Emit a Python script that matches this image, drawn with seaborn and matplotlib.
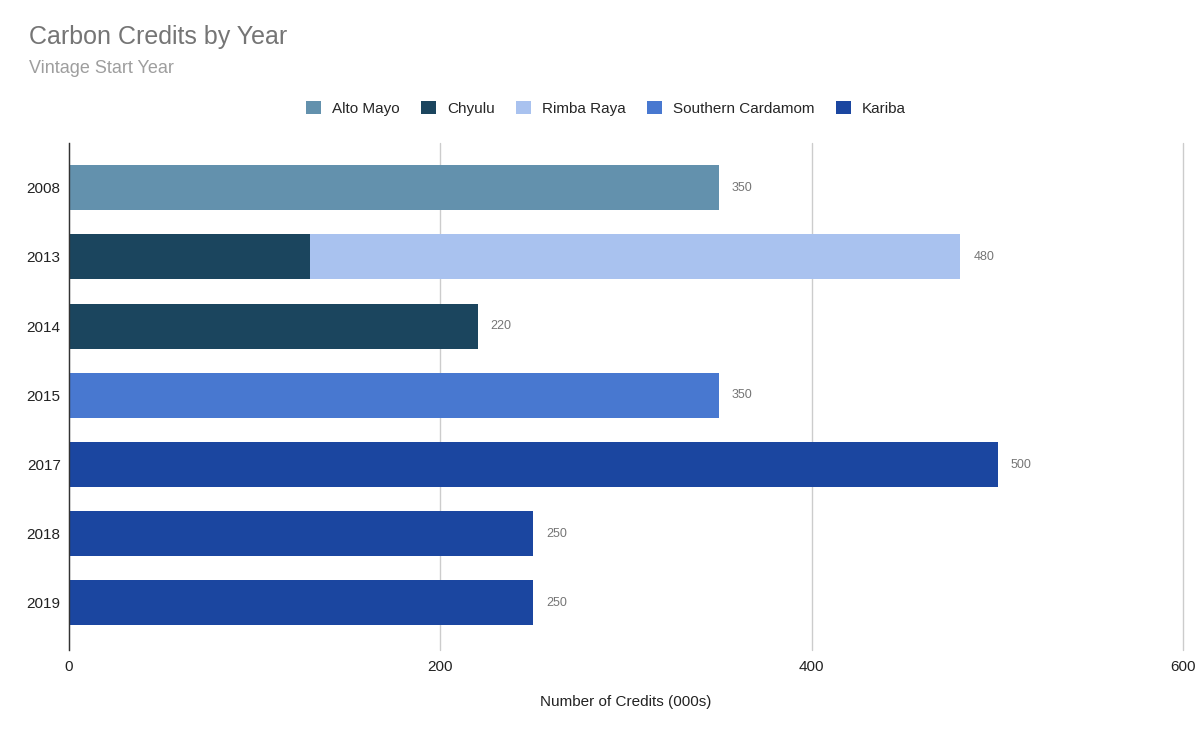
import numpy as np
import pandas as pd
import matplotlib
matplotlib.use("Agg")
import matplotlib.pyplot as plt
from matplotlib.patches import Patch
import seaborn as sns

years = ["2008", "2013", "2014", "2015", "2017", "2018", "2019"]
series_names = ["Alto Mayo", "Chyulu", "Rimba Raya", "Southern Cardamom", "Kariba"]
alto_mayo = [350, 0, 0, 0, 0, 0, 0]
chyulu = [0, 130, 220, 0, 0, 0, 0]
rimba_raya = [0, 350, 0, 0, 0, 0, 0]
southern_cardamom = [0, 0, 0, 350, 0, 0, 0]
kariba = [0, 0, 0, 0, 500, 250, 250]
colors = ["#6391ad", "#1b455e", "#a9c2ef", "#4878d0", "#1b46a0"]

sns.set_theme(style="white")
plt.rcParams['font.family'] = ['Liberation Sans', 'DejaVu Sans']

# stack in series order
df = pd.DataFrame({"year": years, "Alto Mayo": alto_mayo, "Chyulu": chyulu,
                   "Rimba Raya": rimba_raya, "Southern Cardamom": southern_cardamom,
                   "Kariba": kariba})
cum = df[series_names].cumsum(axis=1)
totals = df[series_names].sum(axis=1)

fig = plt.figure(figsize=(12, 7.32), dpi=100)
ax = fig.add_axes([0.0575, 0.112, 0.9285, 0.693])

# draw cumulative bars from the top of the stack down so lower layers sit in front
for name, col in zip(reversed(series_names), reversed(colors)):
    sns.barplot(x=cum[name], y=df["year"], order=years, color=col, width=0.65,
                linewidth=0, saturation=1, orient="h", ax=ax)

for i, t in enumerate(totals):
    ax.text(t + 7, i, f"{t:g}", va="center", ha="left", fontsize=9, color="#757575")

ax.set_xlim(0, 600)
ax.set_ylim(6.68, -0.65)
ax.set_xticks([0, 200, 400, 600])
ax.xaxis.grid(True, color="#cccccc", linewidth=1)
for gl in ax.get_xgridlines():
    gl.set_clip_on(False)
ax.set_axisbelow(True)
for s in ["top", "right", "bottom"]:
    ax.spines[s].set_visible(False)
ax.spines["left"].set_color("#333333")
ax.spines["left"].set_linewidth(1)
ax.tick_params(axis="both", length=0, labelsize=11, colors="#222222")
ax.tick_params(axis="y", pad=6)
ax.tick_params(axis="x", pad=7)
ax.set_ylabel("")
ax.set_xlabel("Number of Credits (000s)", fontsize=11, color="#222222", labelpad=15)

fig.text(0.024, 0.950, "Carbon Credits by Year", fontsize=18, color="#757575", va="center")
fig.text(0.024, 0.907, "Vintage Start Year", fontsize=13, color="#9e9e9e", va="center")

handles = [Patch(facecolor=c, edgecolor="none", label=n) for n, c in zip(series_names, colors)]
fig.legend(handles=handles, loc="center", bbox_to_anchor=(0.505, 0.852), ncol=5,
           frameon=False, fontsize=11, handlelength=1.0, handleheight=1.0,
           handletextpad=0.7, columnspacing=1.4)

fig.savefig("out.png", dpi=100)
